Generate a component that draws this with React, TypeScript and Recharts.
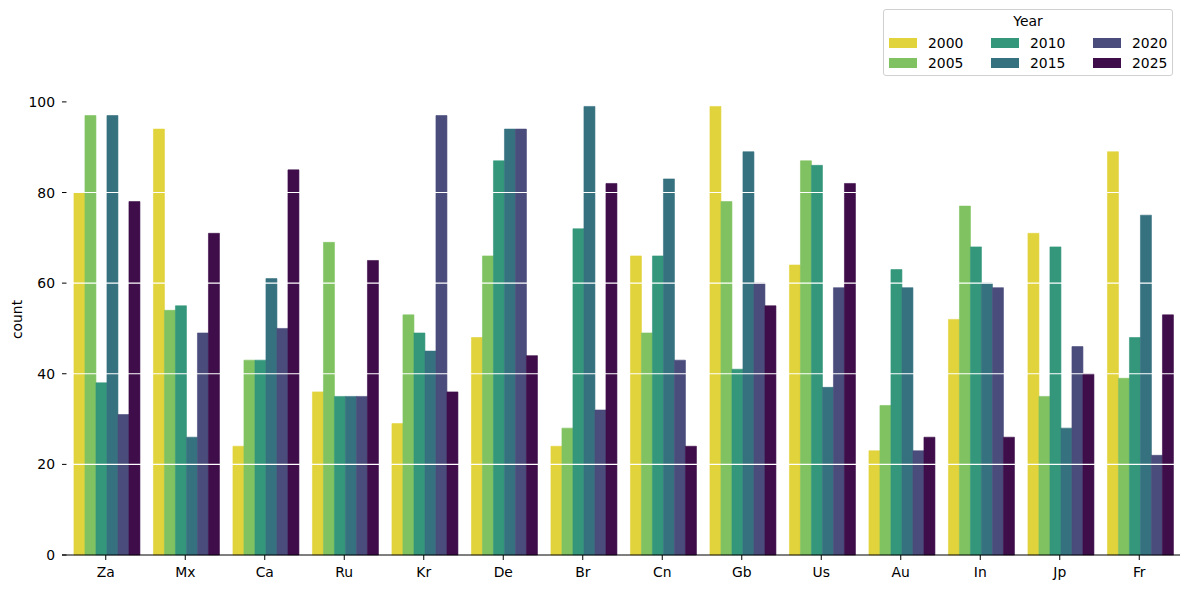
import { Bar, BarChart, Legend, ReferenceLine, XAxis, YAxis } from "recharts";

const countries = ["Za", "Mx", "Ca", "Ru", "Kr", "De", "Br", "Cn", "Gb", "Us", "Au", "In", "Jp", "Fr"];
const years = ["2000", "2005", "2010", "2015", "2020", "2025"];

const count2000 = [80, 94, 24, 36, 29, 48, 24, 66, 99, 64, 23, 52, 71, 89];
const count2005 = [97, 54, 43, 69, 53, 66, 28, 49, 78, 87, 33, 77, 35, 39];
const count2010 = [38, 55, 43, 35, 49, 87, 72, 66, 41, 86, 63, 68, 68, 48];
const count2015 = [97, 26, 61, 35, 45, 94, 99, 83, 89, 37, 59, 60, 28, 75];
const count2020 = [31, 49, 50, 35, 97, 94, 32, 43, 60, 59, 23, 59, 46, 22];
const count2025 = [78, 71, 85, 65, 36, 44, 82, 24, 55, 82, 26, 26, 40, 53];

const yTicks = [0, 20, 40, 60, 80, 100];

const seriesCounts = [count2000, count2005, count2010, count2015, count2020, count2025];

// viridis, reversed and softened a bit like seaborn's default saturation
const colors = ["#e1d33c", "#80c261", "#34977b", "#36717f", "#4a4c7c", "#3e0d4a"];

const data = countries.map((c, i) => {
  const row: Record<string, string | number> = { country: c };
  years.forEach((y, j) => {
    row["y" + y] = seriesCounts[j][i];
  });
  return row;
});

const FONT = "'DejaVu Sans', sans-serif";
const FS = 13.9;
const PLOT_LEFT = 62;

function YTick(props: any) {
  const { y, payload } = props;
  return (
    <g>
      <line x1={PLOT_LEFT} x2={PLOT_LEFT + 4.5} y1={y} y2={y} stroke="#000" strokeWidth={1} />
      <text x={55} y={y + 5} textAnchor="end" fontFamily={FONT} fontSize={FS} fill="#000">
        {payload.value}
      </text>
    </g>
  );
}

function XTick(props: any) {
  const { x, payload } = props;
  return (
    <g>
      <line x1={x} x2={x} y1={555} y2={560} stroke="#000" strokeWidth={1} />
      <text x={x} y={577} textAnchor="middle" fontFamily={FONT} fontSize={FS} fill="#000">
        {payload.value}
      </text>
    </g>
  );
}

function YearLegend() {
  // matplotlib fills legend columns top to bottom
  const cols = [0, 1, 2].map((c) => [years[c * 2], years[c * 2 + 1]]);
  return (
    <div
      style={{
        width: 288,
        height: 65,
        border: "1px solid #d0d0d0",
        borderRadius: 3,
        background: "rgba(255,255,255,0.8)",
        fontFamily: FONT,
        fontSize: FS,
        color: "#000",
        position: "relative",
        boxSizing: "content-box",
      }}
    >
      <div style={{ position: "absolute", top: 3, left: 0, width: "100%", textAlign: "center" }}>Year</div>
      {cols.map((pair, ci) =>
        pair.map((yr, ri) => (
          <div
            key={yr}
            style={{ position: "absolute", left: 5 + ci * 102, top: 25 + ri * 20, display: "flex", alignItems: "center" }}
          >
            <span
              style={{ display: "inline-block", width: 28, height: 10, background: colors[years.indexOf(yr)] }}
            />
            <span style={{ marginLeft: 11, lineHeight: "16px" }}>{yr}</span>
          </div>
        ))
      )}
    </div>
  );
}

export default function App() {
  return (
    <div style={{ position: "absolute", left: 0, top: 0, width: 1189, height: 589, background: "#fff" }}>
      <BarChart
        width={1189}
        height={589}
        data={data}
        margin={{ top: 84, right: 9, bottom: 0, left: 0 }}
        barCategoryGap="10%"
        barGap={0}
      >
        <XAxis
          dataKey="country"
          height={34}
          padding={{ left: 4, right: 1 }}
          axisLine={{ stroke: "#000", strokeWidth: 1.2 }}
          tickLine={false}
          tick={<XTick />}
          interval={0}
        />
        <YAxis
          width={PLOT_LEFT}
          domain={[0, 103.95]}
          ticks={yTicks}
          axisLine={false}
          tickLine={false}
          tick={<YTick />}
          label={{
            value: "count",
            angle: -90,
            position: "insideLeft",
            dx: 12,
            style: { fontFamily: FONT, fontSize: FS, fill: "#000", textAnchor: "middle" },
          }}
        />
        <Legend
          layout="horizontal"
          verticalAlign="middle"
          align="center"
          content={() => <YearLegend />}
          wrapperStyle={{ top: 9, left: 883, width: 290 }}
        />
        {years.map((y, j) => (
          <Bar
            key={y}
            dataKey={"y" + y}
            name={y}
            fill={colors[j]}
            stroke={colors[j]}
            strokeWidth={0.6}
            isAnimationActive={false}
          />
        ))}
        {yTicks.slice(1).map((t) => (
          <ReferenceLine key={t} y={t} stroke="#fff" strokeWidth={1.2} />
        ))}
      </BarChart>
    </div>
  );
}
